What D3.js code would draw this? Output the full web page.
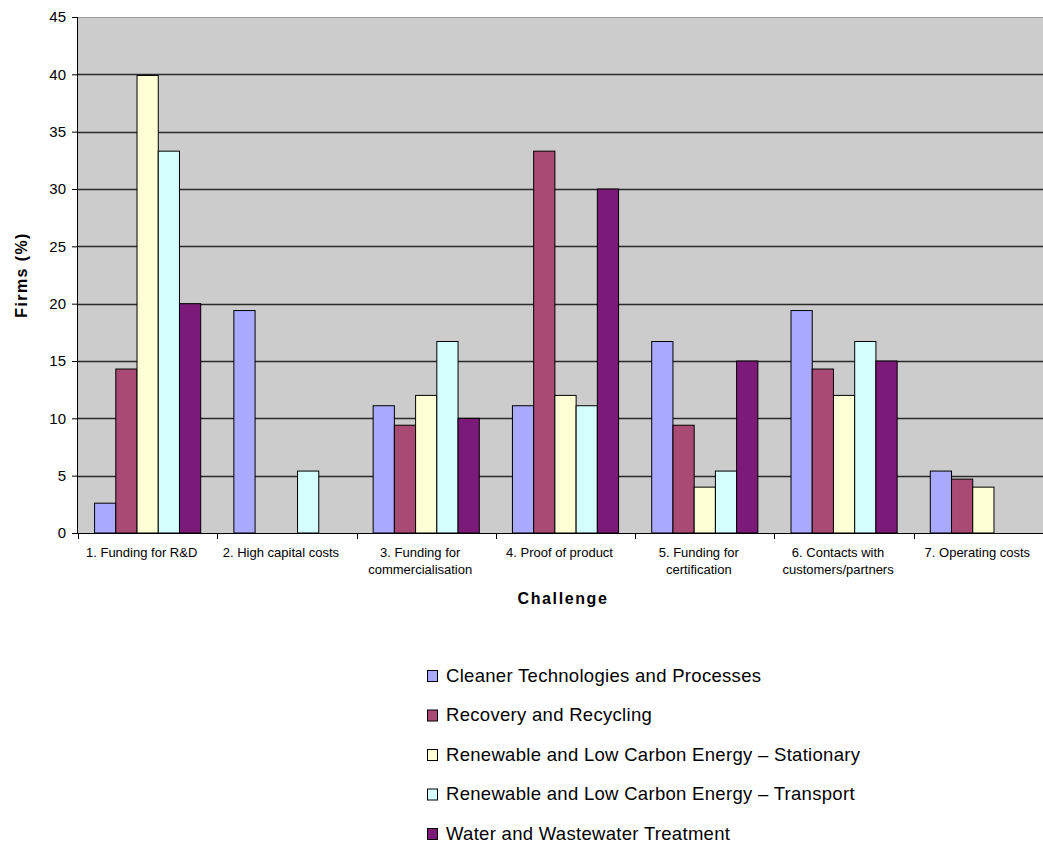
<!DOCTYPE html>
<html>
<head>
<meta charset="utf-8">
<script src="https://cdn.jsdelivr.net/npm/d3@7/dist/d3.min.js"></script>
<style>
  html, body { margin: 0; padding: 0; background: #ffffff; }
  svg { display: block; font-family: "Liberation Sans", Arial, sans-serif; }
</style>
</head>
<body>
<svg id="chart" width="1043" height="843"></svg>
<script>
// Challenges faced by firms, by sector (percentage of firms)
const categories = [
  ["1. Funding for R&D"],
  ["2. High capital costs"],
  ["3. Funding for", "commercialisation"],
  ["4. Proof of product"],
  ["5. Funding for", "certification"],
  ["6. Contacts with", "customers/partners"],
  ["7. Operating costs"]
];
const seriesNames = [
  "Cleaner Technologies and Processes",
  "Recovery and Recycling",
  "Renewable and Low Carbon Energy \u2013 Stationary",
  "Renewable and Low Carbon Energy \u2013 Transport",
  "Water and Wastewater Treatment"
];
const cleaner    = [2.6, 19.4, 11.1, 11.1, 16.7, 19.4, 5.4];
const recovery   = [14.3, null, 9.4, 33.3, 9.4, 14.3, 4.7];
const stationary = [39.9, null, 12.0, 12.0, 4.0, 12.0, 4.0];
const transport  = [33.3, 5.4, 16.7, 11.1, 5.4, 16.7, null];
const water      = [20.0, null, 10.0, 30.0, 15.0, 15.0, null];
const yTicks = [0, 5, 10, 15, 20, 25, 30, 35, 40, 45];
const colors = ["#a9a9ff", "#a94a75", "#ffffd5", "#d5ffff", "#7b1a78"];

const seriesValues = [cleaner, recovery, stationary, transport, water];

const svg = d3.select("#chart");
const plot = { left: 78, right: 1053, top: 17, bottom: 533 };

const x = d3.scaleBand()
  .domain(d3.range(categories.length))
  .range([plot.left, plot.right])
  .paddingInner(0)
  .paddingOuter(0);

const barBand = x.bandwidth() * 0.762;
const xInner = d3.scaleBand()
  .domain(d3.range(seriesNames.length))
  .range([(x.bandwidth() - barBand) / 2, (x.bandwidth() + barBand) / 2]);

const y = d3.scaleLinear().domain([0, 45]).range([plot.bottom, plot.top]);

// plot background
svg.append("rect")
  .attr("x", plot.left).attr("y", plot.top)
  .attr("width", plot.right - plot.left).attr("height", plot.bottom - plot.top)
  .attr("fill", "#cccccc");

// top border
svg.append("line")
  .attr("x1", plot.left).attr("x2", plot.right)
  .attr("y1", plot.top + 0.5).attr("y2", plot.top + 0.5)
  .attr("stroke", "#9a9a9a").attr("stroke-width", 1);

// horizontal gridlines
svg.append("g")
  .selectAll("line")
  .data(yTicks.filter(d => d > 0 && d < 45))
  .join("line")
  .attr("x1", plot.left).attr("x2", plot.right)
  .attr("y1", d => Math.round(y(d)) + 0.5).attr("y2", d => Math.round(y(d)) + 0.5)
  .attr("stroke", "#2a2a2a").attr("stroke-width", 1.4);

// bars
const groups = svg.append("g")
  .selectAll("g")
  .data(categories.map((c, i) => i))
  .join("g")
  .attr("transform", i => `translate(${x(i)},0)`);

groups.selectAll("rect")
  .data(i => seriesValues.map((vals, s) => ({ s, v: vals[i] })).filter(d => d.v != null))
  .join("rect")
  .attr("x", d => xInner(d.s))
  .attr("y", d => y(d.v))
  .attr("width", xInner.bandwidth())
  .attr("height", d => y(0) - y(d.v))
  .attr("fill", d => colors[d.s])
  .attr("stroke", "#000")
  .attr("stroke-width", 1);

// y axis
const yAxis = d3.axisLeft(y).tickValues(yTicks).tickSize(6).tickPadding(6).tickFormat(d3.format("d"));
const gy = svg.append("g")
  .attr("transform", `translate(${plot.left},0)`)
  .call(yAxis);
gy.select(".domain").attr("stroke", "#000").attr("d", `M-0.5,${plot.top}V${plot.bottom}`);
gy.selectAll(".tick line").attr("stroke", "#000");
gy.selectAll(".tick text")
  .attr("font-size", 15)
  .attr("fill", "#000")
  .attr("font-family", "Liberation Sans, Arial, sans-serif");

// x axis with tick marks at category boundaries
const xAxisG = svg.append("g");
xAxisG.append("line")
  .attr("x1", plot.left - 6).attr("x2", plot.right)
  .attr("y1", plot.bottom + 0.5).attr("y2", plot.bottom + 0.5)
  .attr("stroke", "#000").attr("stroke-width", 1.2);
xAxisG.selectAll("line.tk")
  .data(d3.range(categories.length + 1))
  .join("line")
  .attr("class", "tk")
  .attr("x1", i => Math.round(plot.left + i * x.step()) + 0.5)
  .attr("x2", i => Math.round(plot.left + i * x.step()) + 0.5)
  .attr("y1", plot.bottom).attr("y2", plot.bottom + 6)
  .attr("stroke", "#000");

// category labels
const lbl = svg.append("g")
  .selectAll("text")
  .data(categories.map((c, i) => ({ c, i })))
  .join("text")
  .attr("text-anchor", "middle")
  .attr("font-size", 13)
  .attr("fill", "#000")
  .attr("x", d => x(d.i) + x.bandwidth() / 2 - 6)
  .attr("y", plot.bottom + 24);
lbl.selectAll("tspan")
  .data(d => d.c.map((line, k) => ({ line, k, cx: x(d.i) + x.bandwidth() / 2 - 6 })))
  .join("tspan")
  .attr("x", d => d.cx)
  .attr("dy", d => d.k === 0 ? 0 : 16.5)
  .text(d => d.line);

// axis titles
svg.append("text")
  .attr("transform", `translate(27,${(plot.top + plot.bottom) / 2}) rotate(-90)`)
  .attr("text-anchor", "middle")
  .attr("font-size", 16)
  .attr("font-weight", "bold")
  .attr("letter-spacing", 1.4)
  .text("Firms (%)");

svg.append("text")
  .attr("x", 563)
  .attr("y", 604)
  .attr("text-anchor", "middle")
  .attr("font-size", 16)
  .attr("font-weight", "bold")
  .attr("letter-spacing", 1.6)
  .text("Challenge");

// legend
const legend = svg.append("g")
  .selectAll("g")
  .data(seriesNames.map((n, s) => ({ n, s })))
  .join("g")
  .attr("transform", d => `translate(427,${675 + d.s * 39.5})`);
legend.append("rect")
  .attr("x", 0.5).attr("y", -4.5)
  .attr("width", 10).attr("height", 11)
  .attr("fill", d => colors[d.s])
  .attr("stroke", "#000").attr("stroke-width", 1);
legend.append("text")
  .attr("x", 19).attr("y", 6.5)
  .attr("font-size", 18.5)
  .attr("letter-spacing", 0.3)
  .attr("fill", "#000")
  .text(d => d.n);
</script>
</body>
</html>
